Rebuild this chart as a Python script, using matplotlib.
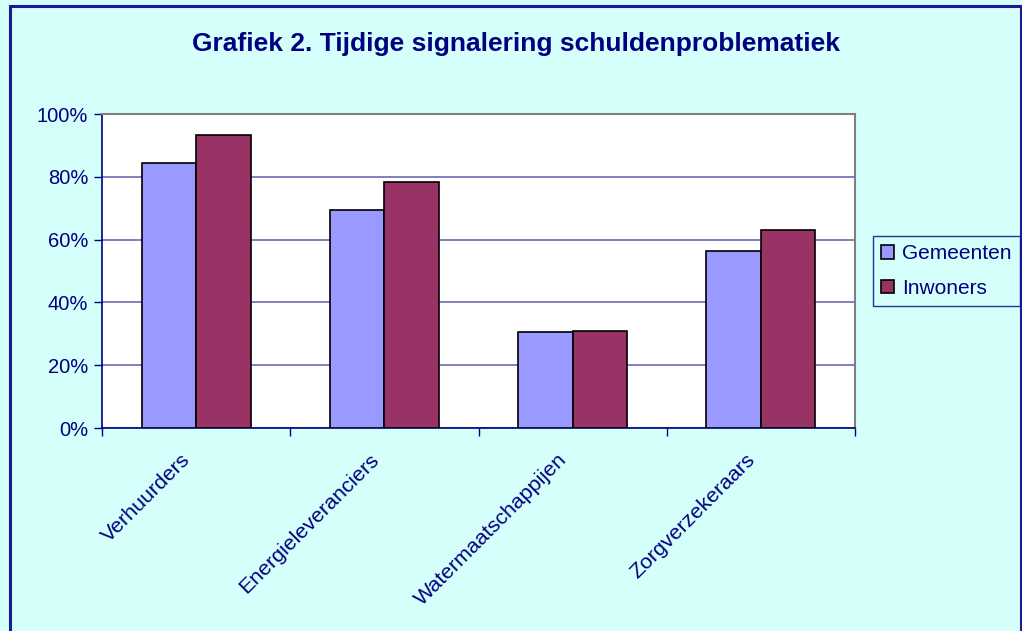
import matplotlib
matplotlib.use("Agg")
import matplotlib.pyplot as plt
import numpy as np
from matplotlib.patches import Rectangle
from matplotlib.ticker import FixedLocator, FuncFormatter

categories = ["Verhuurders", "Energieleveranciers", "Watermaatschappijen", "Zorgverzekeraars"]
gemeenten = [84.3, 69.4, 30.5, 56.4]
inwoners = [93.3, 78.4, 31.0, 63.1]
series_names = ["Gemeenten", "Inwoners"]
yticks = [0, 20, 40, 60, 80, 100]
title = "Grafiek 2. Tijdige signalering schuldenproblematiek"

BG = "#D5FFFA"
NAVY = "#000080"
GRID = "#6B6BB5"

plt.rcParams['font.family'] = ['Liberation Sans', 'DejaVu Sans']

fig = plt.figure(figsize=(10.22, 6.31), dpi=100, facecolor=BG)
ax = fig.add_axes([102/1022, 1-428/631, (855-102)/1022, (428-114)/631])
ax.set_facecolor("white")

x = np.arange(len(categories))
w = 0.29
ax.bar(x - w/2, gemeenten, width=w, color="#9999FF", edgecolor="black", linewidth=1.2, label=series_names[0], zorder=3)
ax.bar(x + w/2, inwoners, width=w, color="#993366", edgecolor="black", linewidth=1.2, label=series_names[1], zorder=3)

ax.set_xlim(-0.5, len(categories) - 0.5)
ax.set_ylim(0, 100)
ax.yaxis.set_major_locator(FixedLocator(yticks))
ax.yaxis.set_major_formatter(FuncFormatter(lambda v, p: f"{int(v)}%"))
ax.grid(axis="y", color=GRID, linewidth=1.2, zorder=0)

ax.set_xticks(x)
ax.set_xticklabels([])
ax.tick_params(axis="x", which="major", length=0)
ax.set_xticks(np.arange(-0.5, len(categories)), minor=True)
ax.tick_params(axis="x", which="minor", length=6, color=NAVY, width=1, direction="out")
ax.tick_params(axis="y", length=6, color=NAVY, width=1, labelsize=14.5, labelcolor=NAVY, pad=4)

for xi, lab in zip(x, categories):
    ax.annotate(lab, xy=(xi, 0), xycoords=("data", "axes fraction"),
                xytext=(-11, -16), textcoords="offset points",
                rotation=45, ha="right", va="top", rotation_mode="anchor",
                fontsize=15.4, color=NAVY)

for s in ["left", "bottom"]:
    ax.spines[s].set_color(NAVY)
    ax.spines[s].set_linewidth(1.2)
for s in ["top", "right"]:
    ax.spines[s].set_color("#808080")
    ax.spines[s].set_linewidth(1.5)

fig.text(516/1022, 1-44/631, title, ha="center", va="center", fontsize=19,
         fontweight="bold", color=NAVY)

leg = fig.legend(loc="upper left", bbox_to_anchor=(873/1022, 1-236/631),
                 fontsize=15, frameon=True, fancybox=False, handlelength=0.6,
                 handleheight=0.6, handletextpad=0.38, borderpad=0.4, labelspacing=0.75,
                 borderaxespad=0)
leg.get_frame().set_edgecolor(NAVY)
leg.get_frame().set_facecolor(BG)
leg.get_frame().set_linewidth(1.0)
for t in leg.get_texts():
    t.set_color(NAVY)

fig.patches.append(Rectangle((10/1022, -0.05), (1021-10)/1022, 1-6/631+0.05,
                             transform=fig.transFigure, fill=False,
                             edgecolor="#1A1A99", linewidth=2.2))

fig.savefig("out.png", dpi=100, facecolor=BG)
